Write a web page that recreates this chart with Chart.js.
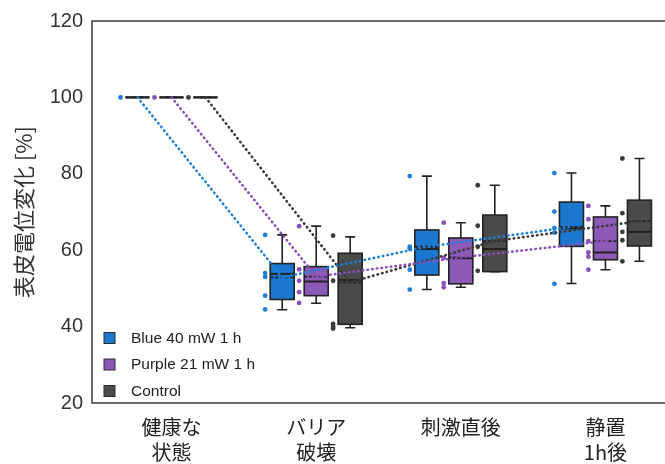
<!DOCTYPE html>
<html>
<head>
<meta charset="utf-8">
<script src="https://cdn.jsdelivr.net/npm/chart.js@4.4.1/dist/chart.umd.min.js"></script>
<style>
  html, body { margin: 0; padding: 0; background: #fff; overflow: hidden; }
  #wrap { width: 690px; height: 464px; }
</style>
</head>
<body>
<div id="wrap"><canvas id="grafico"></canvas></div>
<script>
// datos
const categorias = [['健康な', '状態'], ['バリア', '破壊'], ['刺激直後'], ['静置', '1h後']];
const series = ['Blue 40 mW 1 h', 'Purple 21 mW 1 h', 'Control'];
const yTicks = [20, 40, 60, 80, 100, 120];

// [bigote inf, q1, mediana, q3, bigote sup] por categoria
const blueBox = [[100, 100, 100, 100, 100], [44.4, 47.1, 53.8, 56.5, 64.0], [49.7, 53.5, 60.3, 65.3, 79.4], [51.3, 61.0, 65.7, 72.6, 80.2]];
const purpleBox = [[100, 100, 100, 100, 100], [46.1, 48.1, 51.8, 55.7, 66.3], [50.3, 51.2, 57.9, 63.2, 67.2], [54.9, 57.5, 59.4, 68.7, 71.6]];
const controlBox = [[100, 100, 100, 100, 100], [39.7, 40.6, 52.2, 59.2, 63.5], [54.4, 54.4, 60.3, 69.2, 77.0], [57.1, 61.1, 64.8, 73.1, 84.0]];

const blueMean = [100, 52.9, 60.9, 66.1];
const purpleMean = [100, 53.1, 58.1, 62.4];
const controlMean = [100, 51.6, 62.4, 67.6];

const bluePoints = [[100], [64.0, 54.0, 53.0, 48.1, 44.5], [79.4, 60.9, 60.4, 54.9, 49.7], [80.2, 70.1, 65.8, 64.6, 51.2]];
const purplePoints = [[100], [66.3, 55.0, 52.0, 49.0, 46.2], [67.2, 58.0, 51.4, 50.3], [71.6, 68.1, 62.4, 59.4, 58.3, 54.9]];
const controlPoints = [[100], [63.8, 52.0, 40.7, 40.0, 39.5], [77.0, 66.4, 60.9, 54.6], [84.0, 69.7, 64.8, 62.6, 57.1]];

const colores = ['#1c78cf', '#8c5ab6', '#4a4a4a'];
const coloresPunto = ['#1f7fd6', '#8a50b8', '#3a3a3a'];
const desplazamiento = [-0.235, 0, 0.235];
const mitadCaja = 0.083;
const despPunto = -0.118;

const grupos = [
  { box: blueBox, mean: blueMean, pts: bluePoints },
  { box: purpleBox, mean: purpleMean, pts: purplePoints },
  { box: controlBox, mean: controlMean, pts: controlPoints }
];

const datasets = [];
grupos.forEach((g, gi) => {
  datasets.push({
    type: 'line',
    label: series[gi] + ' media',
    data: g.mean.map((v, ci) => ({ x: ci + desplazamiento[gi], y: v })),
    borderColor: coloresPunto[gi],
    borderWidth: 2.6,
    borderDash: [0.5, 4.2],
    borderCapStyle: 'round',
    pointRadius: 0,
    fill: false,
    tension: 0
  });
});
grupos.forEach((g, gi) => {
  const pts = [];
  g.pts.forEach((lista, ci) => lista.forEach(v => pts.push({ x: ci + desplazamiento[gi] + despPunto, y: v })));
  datasets.push({
    type: 'scatter',
    label: series[gi],
    data: pts,
    backgroundColor: coloresPunto[gi],
    borderWidth: 0,
    pointRadius: 2.4
  });
});

const cajasPlugin = {
  id: 'cajas',
  beforeDatasetsDraw(chart) {
    const { ctx, scales: { x, y } } = chart;
    ctx.save();
    grupos.forEach((g, gi) => {
      g.box.forEach((s, ci) => {
        const c = ci + desplazamiento[gi];
        const xl = x.getPixelForValue(c - mitadCaja);
        const xr = x.getPixelForValue(c + mitadCaja);
        const xc = x.getPixelForValue(c);
        const [lo, q1, med, q3, hi] = s.map(v => y.getPixelForValue(v));
        const mean = y.getPixelForValue(g.mean[ci]);
        const cap = 5;
        // bigotes
        ctx.strokeStyle = '#222';
        ctx.lineWidth = 1.6;
        ctx.setLineDash([]);
        ctx.beginPath();
        ctx.moveTo(xc, q3); ctx.lineTo(xc, hi);
        ctx.moveTo(xc - cap, hi); ctx.lineTo(xc + cap, hi);
        ctx.moveTo(xc, q1); ctx.lineTo(xc, lo);
        ctx.moveTo(xc - cap, lo); ctx.lineTo(xc + cap, lo);
        ctx.stroke();
        // caja
        ctx.fillStyle = colores[gi];
        ctx.fillRect(xl, q3, xr - xl, q1 - q3);
        ctx.strokeRect(xl, q3, xr - xl, q1 - q3);
        // mediana
        ctx.lineWidth = 2;
        ctx.beginPath();
        ctx.moveTo(xl, med); ctx.lineTo(xr, med);
        ctx.stroke();
        // media
        ctx.lineWidth = 1.8;
        ctx.setLineDash([3, 2]);
        ctx.beginPath();
        ctx.moveTo(xl, mean); ctx.lineTo(xr, mean);
        ctx.stroke();
        ctx.setLineDash([]);
      });
    });
    ctx.restore();
  },
  afterDraw(chart) {
    const { ctx, chartArea: a } = chart;
    ctx.save();
    // marco
    ctx.strokeStyle = '#5a5a5a';
    ctx.lineWidth = 1.8;
    ctx.strokeRect(a.left, a.top, a.right - a.left, a.bottom - a.top);
    // leyenda
    ctx.font = '15.5px "Liberation Sans", Arial, sans-serif';
    ctx.textBaseline = 'middle';
    series.forEach((nombre, i) => {
      const cy = 338 + i * 26.5;
      ctx.fillStyle = colores[i];
      ctx.fillRect(a.left + 12, cy - 5.5, 11, 11);
      ctx.strokeStyle = '#2a2a2a';
      ctx.lineWidth = 1;
      ctx.strokeRect(a.left + 12, cy - 5.5, 11, 11);
      ctx.fillStyle = '#222';
      ctx.fillText(nombre, a.left + 39, cy + 0.5);
    });
    ctx.restore();
  }
};

const ctxGrafico = document.getElementById('grafico');
Chart.defaults.font.family = '"Liberation Sans", "Noto Sans CJK JP", sans-serif';
Chart.defaults.color = '#222';

let grafico = new Chart(ctxGrafico, {
  type: 'scatter',
  data: { datasets: datasets },
  options: {
    responsive: true,
    maintainAspectRatio: false,
    animation: false,
    layout: { padding: { top: 19, right: 5, left: 0, bottom: 0 } },
    plugins: { legend: { display: false }, tooltip: { enabled: false } },
    scales: {
      x: {
        type: 'linear',
        min: -0.55,
        max: 3.55,
        grid: { display: false, drawTicks: false },
        border: { display: false },
        afterBuildTicks: axis => { axis.ticks = categorias.map((c, i) => ({ value: i })); },
        afterFit: axis => { axis.height = 61; },
        ticks: {
          autoSkip: false,
          maxRotation: 0,
          padding: 12,
          color: '#222',
          font: { size: 20, family: '"Noto Sans CJK JP", sans-serif', lineHeight: 1.25 },
          callback: (v) => categorias[v]
        }
      },
      y: {
        min: 20,
        max: 120,
        grid: { display: false, drawTicks: false },
        border: { display: false },
        afterBuildTicks: axis => { axis.ticks = yTicks.map(v => ({ value: v })); },
        afterFit: axis => { axis.width = 92; },
        ticks: {
          padding: 9,
          color: '#333',
          font: { size: 20 }
        },
        title: {
          display: true,
          text: '表皮電位変化 [%]',
          color: '#333',
          padding: { top: 10, bottom: 0 },
          font: { size: 22, family: '"Noto Sans CJK JP", sans-serif' }
        }
      }
    }
  },
  plugins: [cajasPlugin]
});
</script>
</body>
</html>
